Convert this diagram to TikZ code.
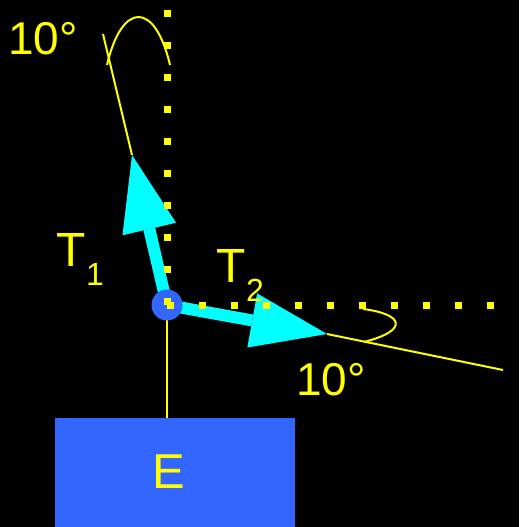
\documentclass[tikz,border=0pt]{standalone}
\usepackage{fontspec}
\setmainfont{Liberation Sans}
\usetikzlibrary{arrows.meta}
\definecolor{bblue}{HTML}{3366FF}
\definecolor{ccyan}{HTML}{00FFFF}
\definecolor{yyel}{HTML}{FFFF00}
\begin{document}
\begin{tikzpicture}[x=1pt,y=-1pt,
  box/.style={draw=none,fill=bblue,minimum width=240pt,minimum height=109pt,inner sep=0pt},
  yline/.style={draw=yyel,line width=2pt},
  force/.style={draw=ccyan,line width=12pt,-{Triangle[length=76pt,width=55pt,line width=0pt]}},
  dots/.style={draw=yyel,line width=7pt,dash pattern=on 7pt off 25pt},
  joint/.style={circle,fill=bblue,minimum size=31pt,inner sep=0pt},
  lbl/.style={text=yyel,inner sep=0pt,anchor=base west},
  big/.style={font=\fontsize{48}{48}\selectfont},
  deg/.style={font=\fontsize{46}{46}\selectfont}]
\fill[black] (0,0) rectangle (519,527);
\useasboundingbox (0,0) rectangle (519,527);
% body
\node[box] (E) at (175,472.5) {};
\node[lbl,font=\fontsize{49}{49}\selectfont] (Elbl) at (152,488) {E};
% coordinates
\coordinate (O) at (167,305);
\coordinate (t1) at (132,155);
\coordinate (t2) at (327,334);
\coordinate (l1) at (103,34);
\coordinate (l2) at (503,370);
\coordinate (vt) at (167,10);
\coordinate (he) at (496,305);
% string to body
\draw[yline] (O) -- (O |- E.north);
% extension lines
\draw[yline] (t1) -- (l1);
\draw[yline] (t2) -- (l2);
% forces
\draw[force] (O) -- (t1);
\draw[force] (O) -- (t2);
% joint
\node[joint] (J) at (O) {};
% reference axes
\draw[dots] (O) -- (vt);
\draw[dots] (O) -- (he);
% angle arcs
\draw[yline] (107,65) .. controls (122,1) and (155,1) .. (170,65);
\draw[yline] (363,309) .. controls (403,314) and (410,330) .. (364,342);
% labels
\node[lbl,deg] (a1) at (8,55) {10°};
\node[lbl,deg] (a2) at (296,395) {10°};
\node[lbl,big] (T1) at (56.5,266.7) {T\raisebox{-18.3pt}{\fontsize{32}{32}\selectfont 1}};
\node[lbl,big] (T2) at (216.5,282.7) {T\raisebox{-19pt}{\fontsize{32}{32}\selectfont 2}};
\end{tikzpicture}
\end{document}
